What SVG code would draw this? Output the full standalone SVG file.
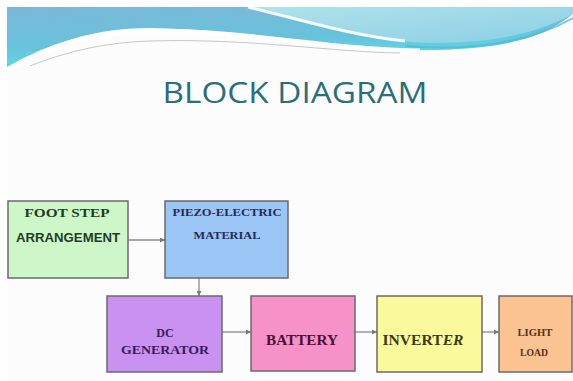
<svg xmlns="http://www.w3.org/2000/svg" width="573" height="381" viewBox="0 0 573 381">
<style>
.box{stroke:#6a6a6a;stroke-width:1.5}
.t{font-family:"Liberation Serif","Times New Roman",serif;font-weight:bold;text-anchor:middle}
.conn{stroke:#8a8a8a;stroke-width:1.3;fill:none;marker-end:url(#ah)}
</style>
<defs>
<marker id="ah" viewBox="0 0 6 6" refX="6" refY="3" markerWidth="5" markerHeight="5" orient="auto" markerUnits="userSpaceOnUse">
<path d="M0,0 L6,3 L0,6 z" fill="#7a7a7a"/>
</marker>
<linearGradient id="gl" x1="0" y1="0" x2="0.3" y2="1">
<stop offset="0" stop-color="#7db7d8"/>
<stop offset="0.6" stop-color="#66c3dc"/>
<stop offset="1" stop-color="#5adfe8"/>
</linearGradient>
<linearGradient id="gr" x1="0" y1="0" x2="1" y2="1">
<stop offset="0" stop-color="#b0e2ea"/>
<stop offset="1" stop-color="#8ccfe6"/>
</linearGradient>
</defs>
<rect width="573" height="381" fill="#ffffff"/>
<rect x="7" y="7" width="566" height="374" fill="#fdfcfc"/>
<g id="header">
<path d="M7,7 L573,7 L573,14 C540,40 500,50 420,50 C330,50 250,30 150,28 C90,28 45,45 7,70 Z" fill="url(#gl)"/>
<path d="M252,7 C300,20 360,38 410,42 C470,46 530,38 573,14 L573,7 Z" fill="url(#gr)"/>
<path d="M248,7 C295,18 352,36 405,41" stroke="#ffffff" stroke-width="3" fill="none" opacity="0.9"/>
<path d="M405,46 C470,52 530,42 573,18" stroke="#4fb6cf" stroke-width="2" fill="none" opacity="0.7"/>
<path d="M7,70 C45,47 90,32 150,31 C250,31 330,50 420,51" stroke="#ffffff" stroke-width="5" fill="none"/>
<path d="M30,66 C70,50 110,42 150,41 C250,38 330,52 400,53" stroke="#c8c8c8" stroke-width="1" fill="none"/>
</g>
<g id="title">
<text x="295" y="103" font-family="'Open Sans','Liberation Sans',sans-serif" font-size="29" fill="#2a6e7d" text-anchor="middle" textLength="265" lengthAdjust="spacingAndGlyphs">BLOCK DIAGRAM</text>
</g>
<g id="connectors">
<line class="conn" x1="128" y1="240" x2="165" y2="240"/>
<line class="conn" x1="199" y1="278" x2="199" y2="296"/>
<line class="conn" x1="222" y1="332" x2="251" y2="332"/>
<line class="conn" x1="355" y1="332" x2="377" y2="332"/>
<line class="conn" x1="482" y1="332" x2="499" y2="332"/>
</g>
<g id="foot-step">
<rect class="box" x="8" y="201" width="120" height="77" fill="#cdf7c9"/>
<text class="t" x="67" y="217" font-size="13" fill="#1e3d1e" textLength="85" lengthAdjust="spacingAndGlyphs">FOOT STEP</text>
<text x="68" y="242" font-family="'Liberation Sans',Arial,sans-serif" font-weight="bold" font-size="13" fill="#1e3d1e" text-anchor="middle" textLength="104" lengthAdjust="spacingAndGlyphs">ARRANGEMENT</text>
</g>
<g id="piezo">
<rect class="box" x="165" y="201" width="123" height="77" fill="#9bc5f4"/>
<text class="t" x="227" y="216" font-size="10.5" fill="#1f2c58" textLength="109" lengthAdjust="spacingAndGlyphs">PIEZO-ELECTRIC</text>
<text class="t" x="227" y="239" font-size="10.5" fill="#1f2c58" textLength="67" lengthAdjust="spacingAndGlyphs">MATERIAL</text>
</g>
<g id="dc-generator">
<rect class="box" x="107" y="296" width="115" height="76" fill="#c991f0"/>
<text class="t" x="165" y="337" font-size="12" fill="#3a1a5c">DC</text>
<text class="t" x="165" y="354" font-size="12" fill="#3a1a5c" textLength="88" lengthAdjust="spacingAndGlyphs">GENERATOR</text>
</g>
<g id="battery">
<rect class="box" x="251" y="296" width="104" height="75" fill="#f792c9"/>
<text class="t" x="302" y="345" font-size="14" fill="#4a1030" textLength="72" lengthAdjust="spacingAndGlyphs">BATTERY</text>
</g>
<g id="inverter">
<rect class="box" x="377" y="296" width="105" height="76" fill="#fafa9c"/>
<text class="t" x="423" y="345" font-size="14" fill="#3a3a12" textLength="81" lengthAdjust="spacingAndGlyphs">INVERT<tspan font-style="italic">ER</tspan></text>
</g>
<g id="light-load">
<rect class="box" x="499" y="296" width="73" height="76" fill="#fbc292"/>
<text class="t" x="535" y="336" font-size="10" fill="#5a3012" textLength="35" lengthAdjust="spacingAndGlyphs">LIGHT</text>
<text class="t" x="534" y="356" font-size="10" fill="#5a3012" textLength="28" lengthAdjust="spacingAndGlyphs">LOAD</text>
</g>
</svg>
